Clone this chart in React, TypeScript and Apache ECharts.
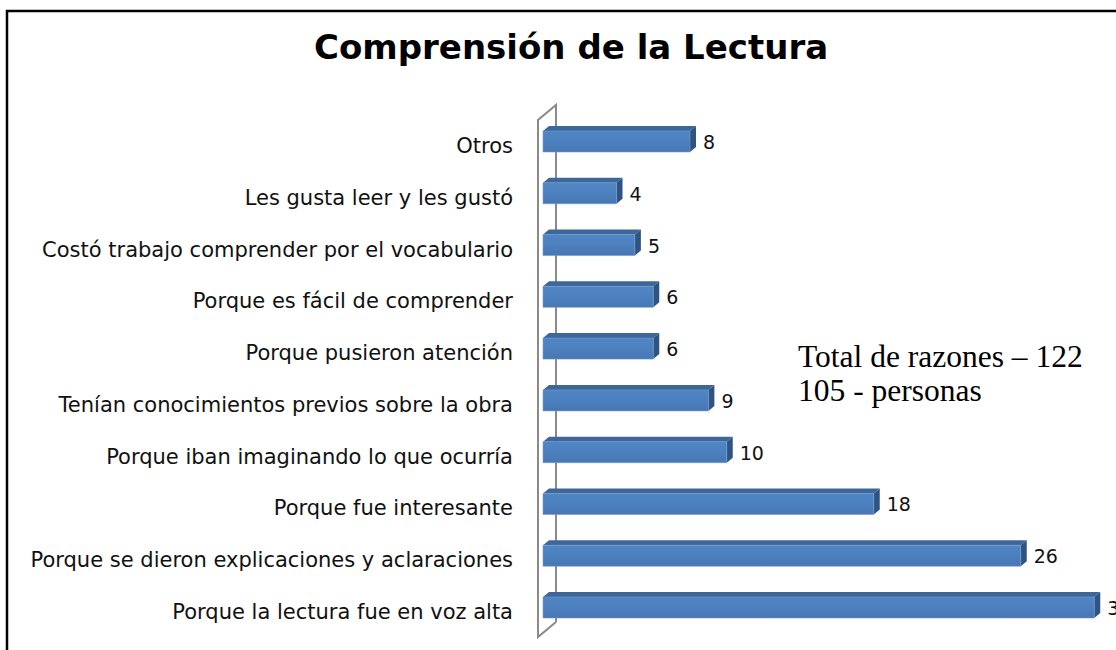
import React, { useEffect, useRef } from "react";
import * as echarts from "echarts";

const categories = [
  "Otros",
  "Les gusta leer y les gustó",
  "Costó trabajo comprender por el vocabulario",
  "Porque es fácil de comprender",
  "Porque pusieron atención",
  "Tenían conocimientos previos sobre la obra",
  "Porque iban imaginando lo que ocurría",
  "Porque fue interesante",
  "Porque se dieron explicaciones y aclaraciones",
  "Porque la lectura fue en voz alta",
];
const values = [8, 4, 5, 6, 6, 9, 10, 18, 26, 30];
const titleText = "Comprensión de la Lectura";
const noteLines = ["Total de razones – 122", "105 - personas"];

export default function App() {
  const ref = useRef<HTMLDivElement>(null);
  useEffect(() => {
    if (!ref.current) return;
    const chart = echarts.init(ref.current, null, { renderer: "svg" });
    const dx = 6;
    const dy = 5;
    const option: any = {
      animation: false,
      backgroundColor: "#fff",
      title: {
        text: titleText,
        left: 309,
        top: 25,
        textStyle: { fontFamily: "DejaVu Sans", fontWeight: "bold", fontSize: 34, color: "#000" },
      },
      grid: { left: 543, right: 21.75, top: 120.1, bottom: 12.1, containLabel: false },
      xAxis: {
        type: "value",
        min: 0,
        max: 30,
        show: false,
        splitLine: { show: false },
      },
      yAxis: {
        type: "category",
        data: categories,
        inverse: true,
        axisLine: { show: false },
        axisTick: { show: false },
        axisLabel: { fontFamily: "DejaVu Sans", fontSize: 21, color: "#111", margin: 30 },
      },
      series: [
        {
          type: "custom",
          encode: { x: 0, y: 1 },
          data: values.map((v, i) => [v, i]),
          clip: false,
          renderItem: (params: any, api: any) => {
            const v = api.value(0);
            const idx = api.value(1);
            const s = api.coord([0, idx]);
            const e = api.coord([v, idx]);
            const c = s[1];
            const top = c - 15;
            const bot = c + 6;
            const x0 = s[0];
            const x1 = e[0];
            return {
              type: "group",
              children: [
                {
                  type: "polygon",
                  shape: { points: [[x0, top], [x0 + dx, top - dy], [x1 + dx, top - dy], [x1, top]] },
                  style: { fill: "#3d6799" },
                },
                {
                  type: "polygon",
                  shape: { points: [[x1, top], [x1 + dx, top - dy], [x1 + dx, bot - dy], [x1, bot]] },
                  style: { fill: "#2f5482" },
                },
                {
                  type: "rect",
                  shape: { x: x0, y: top, width: x1 - x0, height: bot - top },
                  style: {
                    fill: new echarts.graphic.LinearGradient(0, 0, 0, 1, [
                      { offset: 0, color: "#5186c4" },
                      { offset: 0.5, color: "#4c80be" },
                      { offset: 1, color: "#4877b2" },
                    ]),
                    stroke: "#6f9bd0",
                    lineWidth: 0.6,
                  },
                },
                {
                  type: "text",
                  style: {
                    text: String(v),
                    x: x1 + dx + 7,
                    y: c - 4,
                    verticalAlign: "middle",
                    align: "left",
                    fontFamily: "DejaVu Sans",
                    fontSize: 19,
                    fill: "#111",
                  },
                },
              ],
            };
          },
        },
      ],
      graphic: [
        {
          type: "rect",
          shape: { x: 7, y: 11, width: 1200, height: 700 },
          style: { fill: "none", stroke: "#000", lineWidth: 2.5 },
          z: 100,
        },
        {
          type: "polyline",
          shape: { points: [[556, 622], [556, 105], [538, 120], [538, 637], [556, 622]] },
          style: { fill: "none", stroke: "#8a8a8a", lineWidth: 2 },
          z: -1,
        },
        {
          type: "text",
          x: 798,
          y: 356,
          style: {
            text: noteLines[0],
            fontFamily: "Liberation Serif",
            fontSize: 31.5,
            fill: "#000",
            verticalAlign: "middle",
          },
        },
        {
          type: "text",
          x: 798,
          y: 390,
          style: {
            text: noteLines[1],
            fontFamily: "Liberation Serif",
            fontSize: 31.5,
            fill: "#000",
            verticalAlign: "middle",
          },
        },
      ],
    };
    chart.setOption(option);
    return () => chart.dispose();
  }, []);
  return (
    <div
      ref={ref}
      style={{ position: "fixed", left: 0, top: 0, width: 1116, height: 650, background: "#fff" }}
    />
  );
}
